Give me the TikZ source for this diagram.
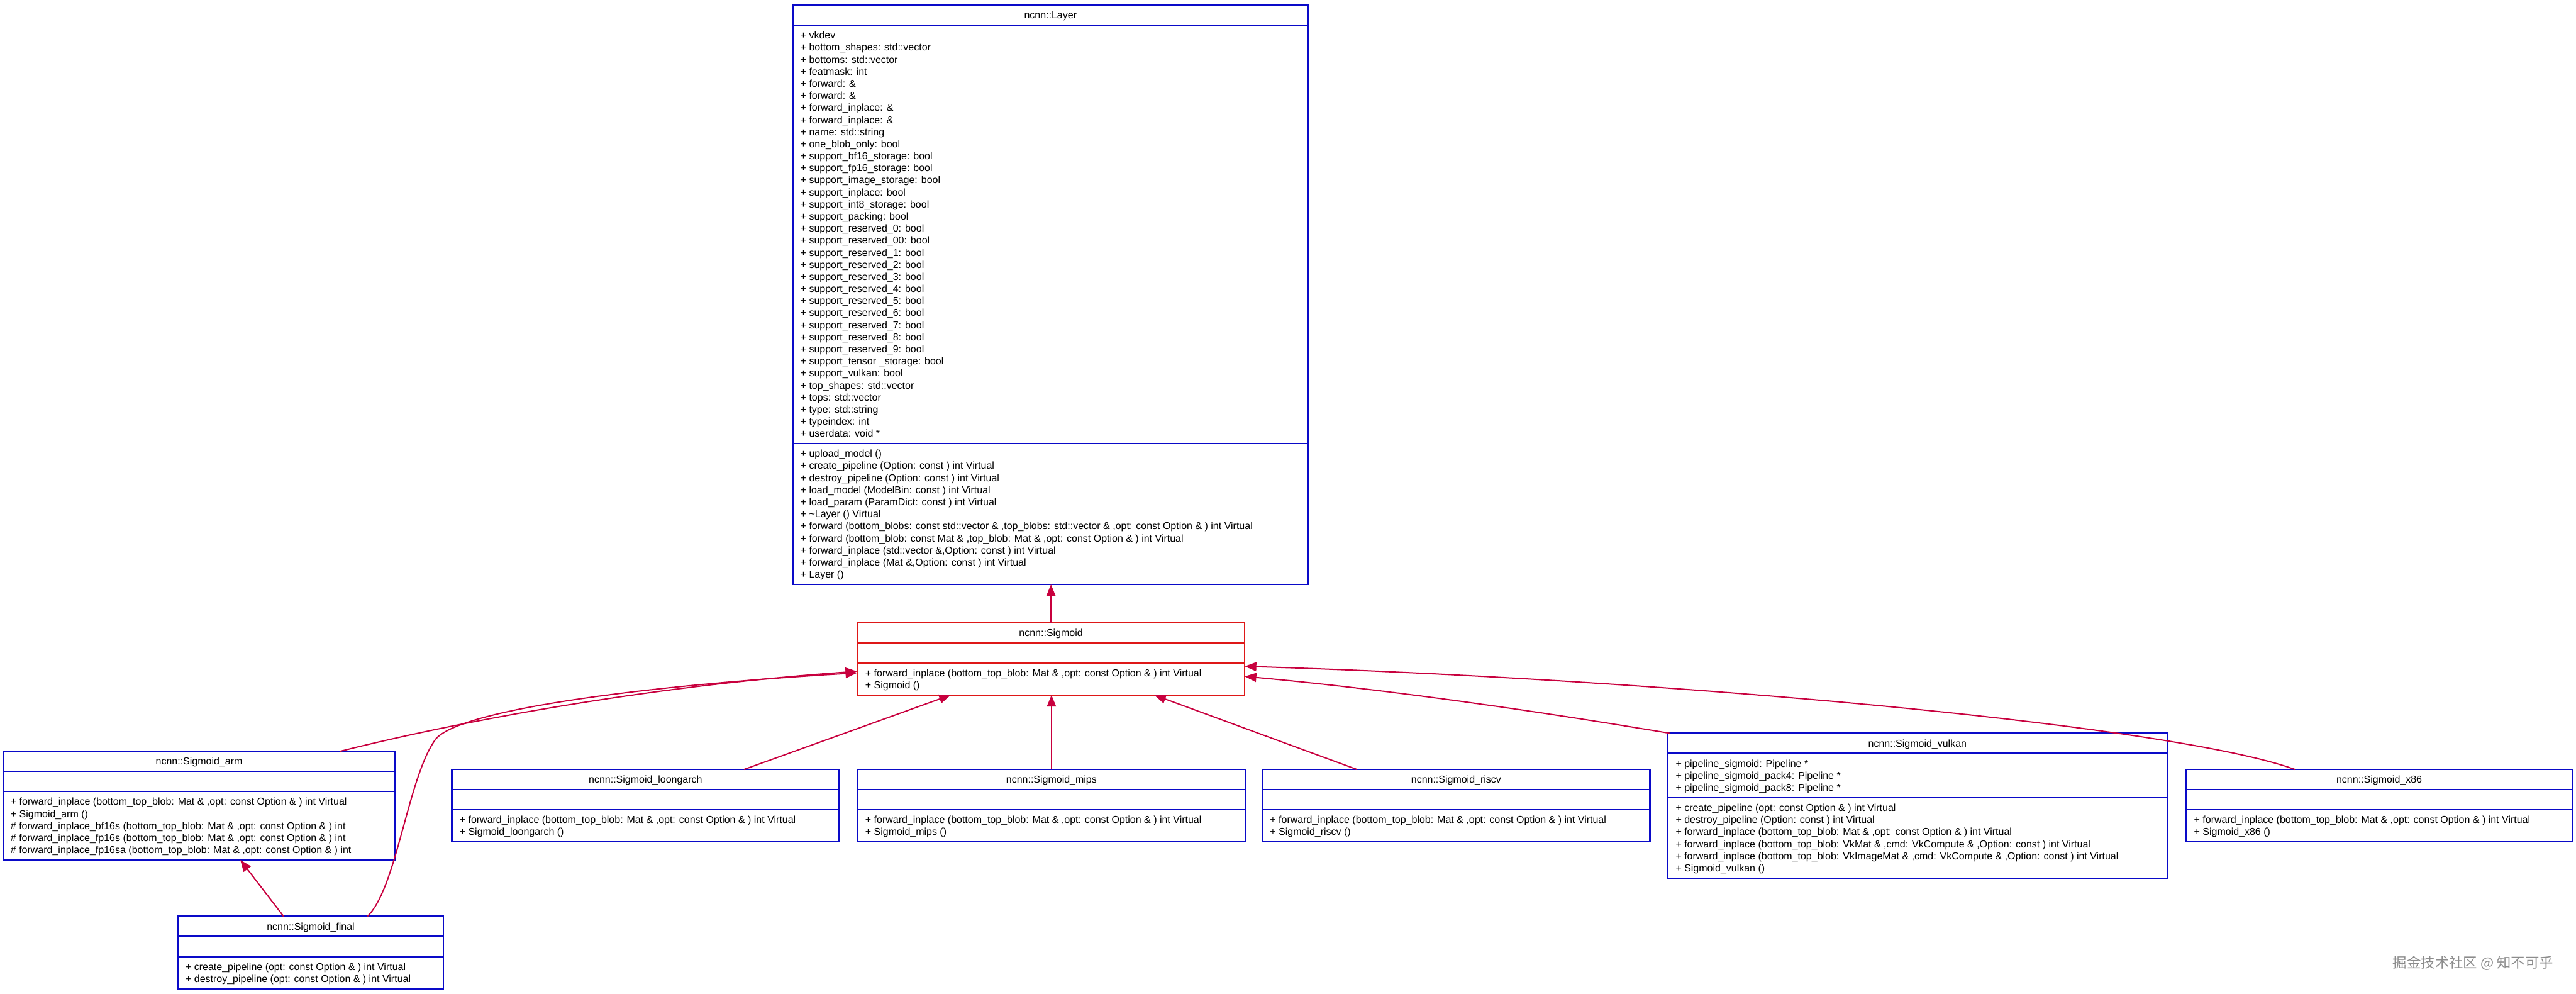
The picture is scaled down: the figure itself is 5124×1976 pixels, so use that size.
\documentclass[tikz,border=0pt]{standalone}
\usepackage{fontspec}
\setmainfont{Liberation Sans}
\newfontfamily\cjkfont{Noto Sans CJK SC}
\usetikzlibrary{arrows.meta}
\definecolor{umlblue}{RGB}{10,10,200}
\definecolor{umlred}{RGB}{222,24,24}
\definecolor{conncol}{RGB}{200,0,62}
\definecolor{wmgray}{RGB}{140,140,140}
\tikzset{
  classbox/.style={draw=umlblue, line width=3pt, inner sep=0pt, outer sep=0pt, anchor=north west},
  mainbox/.style={draw=umlred, line width=3pt, inner sep=0pt, outer sep=0pt, anchor=north west},
  sepblue/.style={draw=umlblue, line width=3pt},
  sepred/.style={draw=umlred, line width=3pt},
  titletext/.style={anchor=base, inner sep=0pt, font=\fontsize{20}{24}\selectfont},
  membertext/.style={anchor=north west, inner sep=0pt, align=left, font=\fontsize{20}{24}\selectfont},
  inherit/.style={draw=conncol, line width=2.5pt, -{Triangle[length=23pt,width=18pt]}},
}
\begin{document}
\begin{tikzpicture}[x=1pt,y=-1pt]
\useasboundingbox (0,0) rectangle (5124,1976);
\fill[white] (0,0) rectangle (5124,1976);

% ---------------- ncnn::Layer ----------------
\node[classbox, minimum width=1025pt, minimum height=1152pt] (layer) at (1577,10) {};
\draw[sepblue] (1577,50) -- (2602,50);
\draw[sepblue] (1577,882) -- (2602,882);
\node[titletext] (layer-t) at (2089.5,37) {ncnn::Layer};
\node[membertext] (layer-a) at (1592,60.2) {\strut+ vkdev\\
+ bottom\_shapes: std::vector\\
+ bottoms: std::vector\\
+ featmask: int\\
+ forward: \&\\
+ forward: \&\\
+ forward\_inplace: \&\\
+ forward\_inplace: \&\\
+ name: std::string\\
+ one\_blob\_only: bool\\
+ support\_bf16\_storage: bool\\
+ support\_fp16\_storage: bool\\
+ support\_image\_storage: bool\\
+ support\_inplace: bool\\
+ support\_int8\_storage: bool\\
+ support\_packing: bool\\
+ support\_reserved\_0: bool\\
+ support\_reserved\_00: bool\\
+ support\_reserved\_1: bool\\
+ support\_reserved\_2: bool\\
+ support\_reserved\_3: bool\\
+ support\_reserved\_4: bool\\
+ support\_reserved\_5: bool\\
+ support\_reserved\_6: bool\\
+ support\_reserved\_7: bool\\
+ support\_reserved\_8: bool\\
+ support\_reserved\_9: bool\\
+ support\_tensor \_storage: bool\\
+ support\_vulkan: bool\\
+ top\_shapes: std::vector\\
+ tops: std::vector\\
+ type: std::string\\
+ typeindex: int\\
+ userdata: void *};
\node[membertext] (layer-m) at (1592,892.2) {\strut+ upload\_model ()\\
+ create\_pipeline (Option: const ) int Virtual\\
+ destroy\_pipeline (Option: const ) int Virtual\\
+ load\_model (ModelBin: const ) int Virtual\\
+ load\_param (ParamDict: const ) int Virtual\\
+ \textasciitilde Layer () Virtual\\
+ forward (bottom\_blobs: const std::vector \& ,top\_blobs: std::vector \& ,opt: const Option \& ) int Virtual\\
+ forward (bottom\_blob: const Mat \& ,top\_blob: Mat \& ,opt: const Option \& ) int Virtual\\
+ forward\_inplace (std::vector \&,Option: const ) int Virtual\\
+ forward\_inplace (Mat \&,Option: const ) int Virtual\\
+ Layer ()};

% ---------------- ncnn::Sigmoid ----------------
\node[mainbox, minimum width=771pt, minimum height=144pt] (sig) at (1705,1238) {};
\draw[sepred] (1705,1278) -- (2476,1278);
\draw[sepred] (1705,1318) -- (2476,1318);
\node[titletext] (sig-t) at (2090.5,1265) {ncnn::Sigmoid};
\node[membertext] (sig-m) at (1721,1328.2) {\strut+ forward\_inplace (bottom\_top\_blob: Mat \& ,opt: const Option \& ) int Virtual\\
+ Sigmoid ()};

% ---------------- ncnn::Sigmoid_arm ----------------
\node[classbox, minimum width=780pt, minimum height=216pt] (arm) at (6,1494) {};
\draw[sepblue] (6,1534) -- (786,1534);
\draw[sepblue] (6,1574) -- (786,1574);
\node[titletext] (arm-t) at (396,1521) {ncnn::Sigmoid\_arm};
\node[membertext] (arm-m) at (21,1584.2) {\strut+ forward\_inplace (bottom\_top\_blob: Mat \& ,opt: const Option \& ) int Virtual\\
+ Sigmoid\_arm ()\\
\# forward\_inplace\_bf16s (bottom\_top\_blob: Mat \& ,opt: const Option \& ) int\\
\# forward\_inplace\_fp16s (bottom\_top\_blob: Mat \& ,opt: const Option \& ) int\\
\# forward\_inplace\_fp16sa (bottom\_top\_blob: Mat \& ,opt: const Option \& ) int};

% ---------------- ncnn::Sigmoid_final ----------------
\node[classbox, minimum width=528pt, minimum height=144pt] (final) at (354,1822) {};
\draw[sepblue] (354,1862) -- (882,1862);
\draw[sepblue] (354,1902) -- (882,1902);
\node[titletext] (final-t) at (618,1849) {ncnn::Sigmoid\_final};
\node[membertext] (final-m) at (369,1912.2) {\strut+ create\_pipeline (opt: const Option \& ) int Virtual\\
+ destroy\_pipeline (opt: const Option \& ) int Virtual};

% ---------------- ncnn::Sigmoid_loongarch ----------------
\node[classbox, minimum width=770pt, minimum height=144pt] (loong) at (899,1530) {};
\draw[sepblue] (899,1570) -- (1669,1570);
\draw[sepblue] (899,1610) -- (1669,1610);
\node[titletext] (loong-t) at (1284,1557) {ncnn::Sigmoid\_loongarch};
\node[membertext] (loong-m) at (914,1620.2) {\strut+ forward\_inplace (bottom\_top\_blob: Mat \& ,opt: const Option \& ) int Virtual\\
+ Sigmoid\_loongarch ()};

% ---------------- ncnn::Sigmoid_mips ----------------
\node[classbox, minimum width=771pt, minimum height=144pt] (mips) at (1706,1530) {};
\draw[sepblue] (1706,1570) -- (2477,1570);
\draw[sepblue] (1706,1610) -- (2477,1610);
\node[titletext] (mips-t) at (2091.5,1557) {ncnn::Sigmoid\_mips};
\node[membertext] (mips-m) at (1721,1620.2) {\strut+ forward\_inplace (bottom\_top\_blob: Mat \& ,opt: const Option \& ) int Virtual\\
+ Sigmoid\_mips ()};

% ---------------- ncnn::Sigmoid_riscv ----------------
\node[classbox, minimum width=771pt, minimum height=144pt] (riscv) at (2511,1530) {};
\draw[sepblue] (2511,1570) -- (3282,1570);
\draw[sepblue] (2511,1610) -- (3282,1610);
\node[titletext] (riscv-t) at (2896.5,1557) {ncnn::Sigmoid\_riscv};
\node[membertext] (riscv-m) at (2526,1620.2) {\strut+ forward\_inplace (bottom\_top\_blob: Mat \& ,opt: const Option \& ) int Virtual\\
+ Sigmoid\_riscv ()};

% ---------------- ncnn::Sigmoid_vulkan ----------------
\node[classbox, minimum width=994pt, minimum height=288pt] (vulkan) at (3317,1458) {};
\draw[sepblue] (3317,1498) -- (4311,1498);
\draw[sepblue] (3317,1586) -- (4311,1586);
\node[titletext] (vulkan-t) at (3814,1485) {ncnn::Sigmoid\_vulkan};
\node[membertext] (vulkan-a) at (3333,1508.2) {\strut+ pipeline\_sigmoid: Pipeline *\\
+ pipeline\_sigmoid\_pack4: Pipeline *\\
+ pipeline\_sigmoid\_pack8: Pipeline *};
\node[membertext] (vulkan-m) at (3333,1596.2) {\strut+ create\_pipeline (opt: const Option \& ) int Virtual\\
+ destroy\_pipeline (Option: const ) int Virtual\\
+ forward\_inplace (bottom\_top\_blob: Mat \& ,opt: const Option \& ) int Virtual\\
+ forward\_inplace (bottom\_top\_blob: VkMat \& ,cmd: VkCompute \& ,Option: const ) int Virtual\\
+ forward\_inplace (bottom\_top\_blob: VkImageMat \& ,cmd: VkCompute \& ,Option: const ) int Virtual\\
+ Sigmoid\_vulkan ()};

% ---------------- ncnn::Sigmoid_x86 ----------------
\node[classbox, minimum width=769pt, minimum height=144pt] (x86) at (4348,1530) {};
\draw[sepblue] (4348,1570) -- (5117,1570);
\draw[sepblue] (4348,1610) -- (5117,1610);
\node[titletext] (x86-t) at (4732.5,1557) {ncnn::Sigmoid\_x86};
\node[membertext] (x86-m) at (4364,1620.2) {\strut+ forward\_inplace (bottom\_top\_blob: Mat \& ,opt: const Option \& ) int Virtual\\
+ Sigmoid\_x86 ()};

% ---------------- inheritance connectors ----------------
\draw[inherit] (sig.north) -- (sig.north |- layer.south);
\draw[inherit] ([xshift=670pt]arm.north west) .. controls +(260,-65) and +(-400,28) .. ([yshift=-97pt]sig.north west);
\draw[inherit] ([xshift=377pt]final.north west) .. controls +(59,-57) and (812,1540) .. (868,1468)
   .. controls (925,1408) and (1300,1362) .. ([yshift=-100pt]sig.north west);
\draw[inherit] ([xshift=210pt]final.north west) -- ([xshift=472pt]arm.south west);
\draw[inherit] ([xshift=581pt]loong.north west) -- ([xshift=186pt]sig.south west);
\draw[inherit] (mips.north) -- (mips.north |- sig.south);
\draw[inherit] ([xshift=188pt]riscv.north west) -- ([xshift=-180pt]sig.south east);
\draw[inherit] ([xshift=4pt]vulkan.north west) .. controls +(-275,-46) and +(274,25) .. ([yshift=-107pt]sig.north east);
\draw[inherit] ([xshift=217pt]x86.north west) .. controls +(-250,-90) and +(824,25) .. ([yshift=-87pt]sig.north east);

% ---------------- watermark ----------------
\node[anchor=east, inner sep=0pt, text=wmgray, font=\cjkfont\fontsize{28}{30}\selectfont] (wm) at (5079,1915) {掘金技术社区 @ 知不可乎};
\end{tikzpicture}
\end{document}
